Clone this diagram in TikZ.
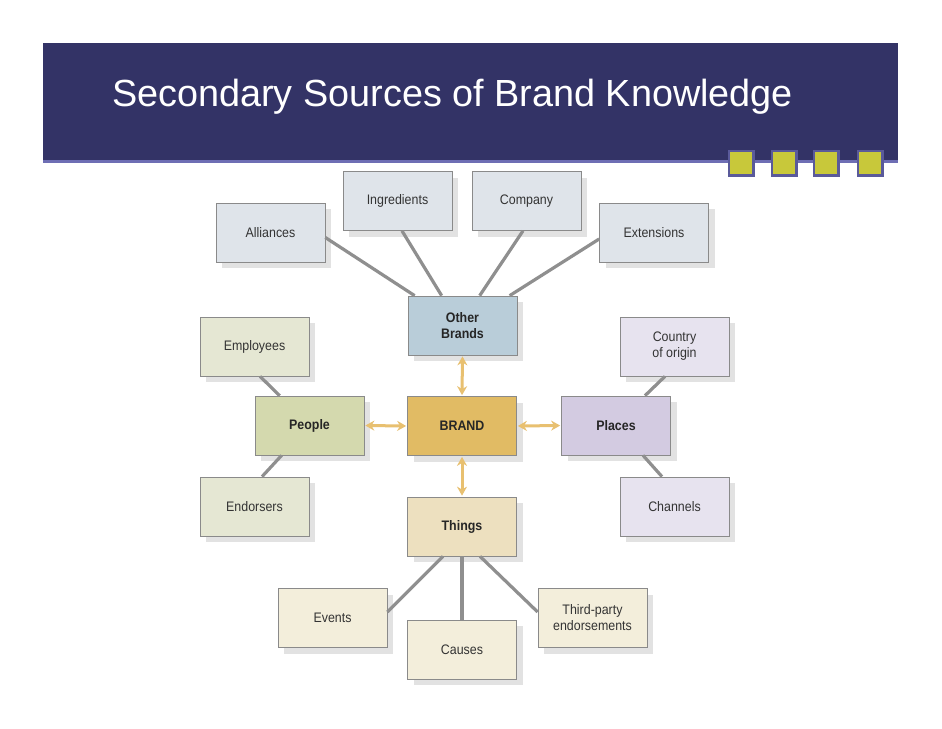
\documentclass[tikz,border=0pt]{standalone}
\usepackage{fontspec}
\setmainfont{Liberation Sans}
\newfontfamily\boxfont[FakeStretch=0.9]{Liberation Sans}
\usetikzlibrary{arrows.meta,shadows,calc}
\definecolor{banner}{HTML}{333366}
\definecolor{bannerline}{HTML}{6E6EB4}
\definecolor{sqfill}{HTML}{C8C83A}
\definecolor{sqborder}{HTML}{5A5A9A}
\definecolor{boxedge}{HTML}{8A8A8A}
\definecolor{shadowgrey}{HTML}{E2E2E2}
\definecolor{textgrey}{HTML}{333333}
\definecolor{topblue}{HTML}{DFE4EA}
\definecolor{obblue}{HTML}{B9CDD9}
\definecolor{empgreen}{HTML}{E5E7D3}
\definecolor{peogreen}{HTML}{D4D9AE}
\definecolor{brandgold}{HTML}{E1BB64}
\definecolor{plpurple}{HTML}{D3CBE1}
\definecolor{coopurple}{HTML}{E7E3EF}
\definecolor{thingtan}{HTML}{EDE0BF}
\definecolor{evcream}{HTML}{F3EEDB}
\definecolor{connector}{HTML}{8F8F8F}
\definecolor{goldline}{HTML}{E8C070}
\tikzset{
  sq/.style={minimum size=24.5pt, inner sep=0pt, fill=sqfill, draw=sqborder, line width=2.5pt},
  box/.style={minimum width=109pt, minimum height=59pt, inner sep=0pt, draw=boxedge, line width=0.7pt,
    font=\boxfont\fontsize{13.8}{16}\selectfont, text=textgrey, align=center,
    drop shadow={shadow xshift=6pt, shadow yshift=-6pt, fill=shadowgrey, opacity=1}},
  boldbox/.style={box, font=\boxfont\bfseries\fontsize{13.8}{16}\selectfont, text=black!85},
  link/.style={draw=connector, line width=3.2pt},
  goldarrow/.style={draw=goldline, line width=3pt, {Stealth[length=9pt,width=10pt]}-{Stealth[length=9pt,width=10pt]}, shorten <=1pt, shorten >=1pt}
}
\begin{document}
\begin{tikzpicture}[x=1pt,y=-1pt]
\useasboundingbox[fill=white] (0,0) rectangle (942,728);
% banner
\fill[banner] (43,43) rectangle (898,160);
\fill[bannerline] (43,160) rectangle (898,163);
\node[anchor=base west, inner sep=0pt, text=white, font=\fontsize{37.8}{40}\selectfont] (title) at (112,106) {Secondary Sources of Brand Knowledge};
\node[sq] (s1) at (741,163) {};
\node[sq] (s2) at (784,163) {};
\node[sq] (s3) at (826,163) {};
\node[sq] (s4) at (870,163) {};
% boxes
\node[box, fill=topblue] (al) at (270.5,232.5) {Alliances};
\node[box, fill=topblue] (ing) at (397.5,201) {Ingredients};
\node[box, fill=topblue] (comp) at (526.5,201) {Company};
\node[box, fill=topblue] (ext) at (654,232.5) {Extensions};
\node[boldbox, fill=obblue] (ob) at (462.5,325.5) {Other\\Brands};
\node[box, fill=empgreen] (emp) at (254.5,346.5) {Employees};
\node[box, fill=coopurple] (coo) at (674.5,346.5) {Country\\of origin};
\node[boldbox, fill=peogreen] (peo) at (309.5,425.5) {People};
\node[boldbox, fill=brandgold] (br) at (462,426) {BRAND};
\node[boldbox, fill=plpurple] (pl) at (616,425.5) {Places};
\node[box, fill=empgreen] (end) at (254.5,506.5) {Endorsers};
\node[boldbox, fill=thingtan] (th) at (462,526.5) {Things};
\node[box, fill=coopurple] (ch) at (674.5,506.5) {Channels};
\node[box, fill=evcream] (ev) at (332.5,618) {Events};
\node[box, fill=evcream] (ca) at (462,649.5) {Causes};
\node[box, fill=evcream] (tp) at (592.5,618) {Third-party\\endorsements};
% grey connectors
\draw[link] ($(al.east)+(0,5)$) -- ($(ob.north west)+(7,0)$);
\draw[link] ($(ing.south)+(4.5,0)$) -- ($(ob.north west)+(34,0)$);
\draw[link] ($(comp.south)+(-3.5,0)$) -- ($(ob.north west)+(72,0)$);
\draw[link] ($(ext.west)+(0,6.5)$) -- ($(ob.north west)+(102,0)$);
\draw[link] ($(emp.south)+(5.5,0)$) -- ($(peo.north west)+(25,0)$);
\draw[link] ($(peo.south west)+(27,0)$) -- ($(end.north)+(7.5,0)$);
\draw[link] ($(coo.south)+(-9.5,0)$) -- ($(pl.north)+(29,0)$);
\draw[link] ($(pl.south)+(27,0)$) -- ($(ch.north)+(-12.5,0)$);
\draw[link] ($(th.south)+(-19,0)$) -- ($(ev.east)+(0,-6)$);
\draw[link] (th.south) -- (ca.north);
\draw[link] ($(th.south)+(18,0)$) -- ($(tp.west)+(0,-6)$);
% gold arrows
\draw[goldarrow] (peo.east) -- (br.west);
\draw[goldarrow] (br.east) -- (pl.west);
\draw[goldarrow] (ob.south) -- (br.north);
\draw[goldarrow] (br.south) -- (th.north);
\end{tikzpicture}
\end{document}
